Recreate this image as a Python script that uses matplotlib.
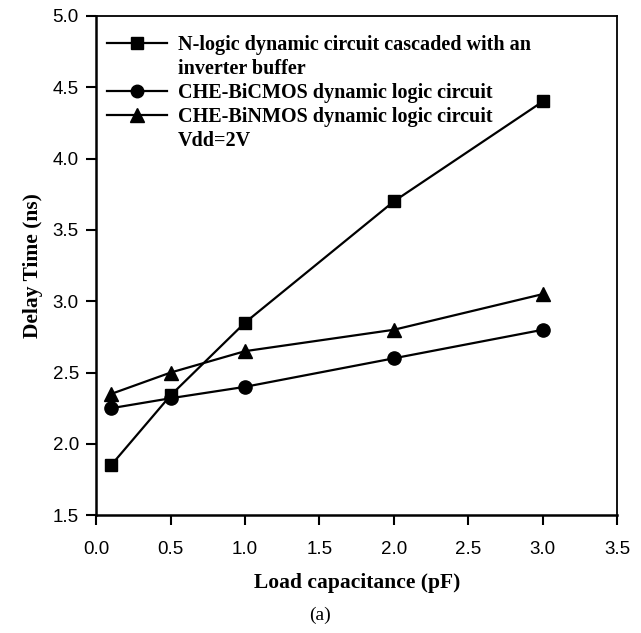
"""Delay time vs load capacitance for three dynamic logic circuits at Vdd=2V."""
import matplotlib

matplotlib.use("Agg")

import matplotlib.pyplot as plt
from matplotlib.lines import Line2D

load_pf = [0.1, 0.5, 1.0, 2.0, 3.0]
delay_nlogic = [1.85, 2.34, 2.85, 3.70, 4.40]
delay_bicmos = [2.25, 2.32, 2.40, 2.60, 2.80]
delay_binmos = [2.35, 2.50, 2.65, 2.80, 3.05]

x_ticks = [0.0, 0.5, 1.0, 1.5, 2.0, 2.5, 3.0, 3.5]
y_ticks = [1.5, 2.0, 2.5, 3.0, 3.5, 4.0, 4.5, 5.0]

SERIF = ["Liberation Serif", "DejaVu Serif"]
SANS = ["Liberation Sans", "DejaVu Sans"]

fig = plt.figure(figsize=(6.41, 6.33), dpi=100)
ax = fig.add_axes([0.150, 0.186, 0.813, 0.789])

line_kw = dict(color="black", linewidth=1.6)
ax.plot(load_pf, delay_nlogic, marker="s", markersize=9, **line_kw)
ax.plot(load_pf, delay_bicmos, marker="o", markersize=9.5, **line_kw)
ax.plot(load_pf, delay_binmos, marker="^", markersize=10, **line_kw)

ax.set_xlim(0.0, 3.5)
ax.set_ylim(1.5, 5.0)
ax.set_xticks(x_ticks)
ax.set_yticks(y_ticks)
ax.set_xticklabels([f"{v:.1f}" for v in x_ticks], family=SANS, fontsize=13.5)
ax.set_yticklabels([f"{v:.1f}" for v in y_ticks], family=SANS, fontsize=13.5)
ax.tick_params(direction="out", length=7.5, width=1.5)
ax.tick_params(axis="x", pad=11)
ax.tick_params(axis="y", pad=5)

for side in ("left", "bottom"):
    ax.spines[side].set_linewidth(1.8)
for side in ("top", "right"):
    ax.spines[side].set_linewidth(1.3)

ax.set_xlabel("Load capacitance (pF)", family=SERIF, fontweight="bold",
              fontsize=15.5, labelpad=11)
ax.set_ylabel("Delay Time (ns)", family=SERIF, fontweight="bold",
              fontsize=15.5, labelpad=7)

# legend rows: the long label wraps onto a second, handle-less row,
# and the supply voltage sits as a final handle-less row
blank = Line2D([], [], linestyle="none")
handles = [
    Line2D([], [], marker="s", markersize=8.5, **line_kw),
    blank,
    Line2D([], [], marker="o", markersize=9, **line_kw),
    Line2D([], [], marker="^", markersize=9.5, **line_kw),
    blank,
]
labels = [
    "N-logic dynamic circuit cascaded with an",
    "inverter buffer",
    "CHE-BiCMOS dynamic logic circuit",
    "CHE-BiNMOS dynamic logic circuit",
    "Vdd=2V",
]
ax.legend(handles, labels, loc="upper left", bbox_to_anchor=(0.02, 0.962),
          frameon=False, handlelength=3.0, handletextpad=0.55,
          labelspacing=0.2, borderaxespad=0.0, borderpad=0.0,
          prop={"family": SERIF, "weight": "bold", "size": 14.5})

fig.text(0.5, 0.028, "(a)", ha="center", va="center", family=SERIF, fontsize=14)

fig.savefig("out.png", dpi=100)
